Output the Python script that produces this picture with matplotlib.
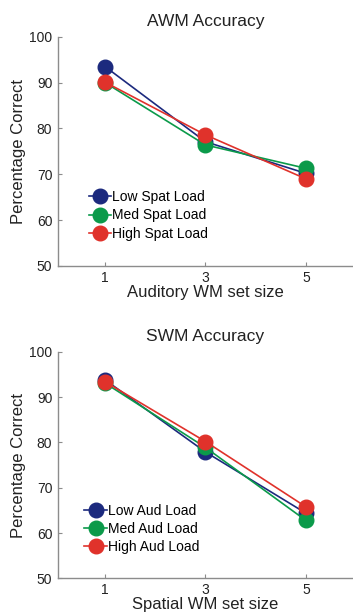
import matplotlib.pyplot as plt

plt.rcParams['font.family'] = ['Liberation Sans', 'DejaVu Sans']

set_sizes = [1, 3, 5]

# AWM panel
awm_low = [93.5, 77.1, 70.2]
awm_med = [90.0, 76.4, 71.3]
awm_high = [90.1, 78.6, 69.0]
awm_labels = ['Low Spat Load', 'Med Spat Load', 'High Spat Load']

# SWM panel
swm_low = [93.8, 77.9, 64.4]
swm_med = [93.1, 78.9, 62.8]
swm_high = [93.4, 80.2, 65.8]
swm_labels = ['Low Aud Load', 'Med Aud Load', 'High Aud Load']

colors = ['#1c2a7e', '#0b9a4a', '#e0322b']
axis_grey = '#8c8c8c'

fig = plt.figure(figsize=(3.53, 6.14), dpi=100)
ax1 = fig.add_axes([0.164, 0.567, 0.836, 0.373])
ax2 = fig.add_axes([0.164, 0.058, 0.836, 0.369])


def draw_panel(ax, series, labels, title, xlabel, leg_anchor, xpad, tpad):
    for vals, lab, c in zip(series, labels, colors):
        ax.plot(set_sizes, vals, '-o', color=c, mfc=c, mec=c, lw=1.2,
                ms=10.5, label=lab)
    ax.set_xlim(0.06, 5.94)
    ax.set_ylim(50, 100)
    ax.set_xticks(set_sizes)
    ax.set_yticks([50, 60, 70, 80, 90, 100])
    for s in ['top', 'right']:
        ax.spines[s].set_visible(False)
    for s in ['left', 'bottom']:
        ax.spines[s].set_color(axis_grey)
        ax.spines[s].set_linewidth(1.0)
    ax.tick_params(direction='in', length=3, color=axis_grey, labelsize=10,
                   labelcolor='#222222', pad=4)
    ax.tick_params(axis='x', pad=tpad)
    ax.set_title(title, fontsize=12.5, pad=8, color='#222222')
    ax.set_xlabel(xlabel, fontsize=12, labelpad=xpad, color='#222222')
    ax.set_ylabel('Percentage Correct', fontsize=12, labelpad=2,
                  color='#222222')
    ax.legend(loc='upper left', bbox_to_anchor=leg_anchor, frameon=False,
              fontsize=10, handlelength=1.6, handletextpad=0.1,
              borderpad=0, labelspacing=0.3, borderaxespad=0)


draw_panel(ax1, [awm_low, awm_med, awm_high], awm_labels,
           'AWM Accuracy', 'Auditory WM set size', (0.105, 0.33), 0, 4)
draw_panel(ax2, [swm_low, swm_med, swm_high], swm_labels,
           'SWM Accuracy', 'Spatial WM set size', (0.09, 0.33), 0, 3)

fig.savefig('out.png', dpi=100)
